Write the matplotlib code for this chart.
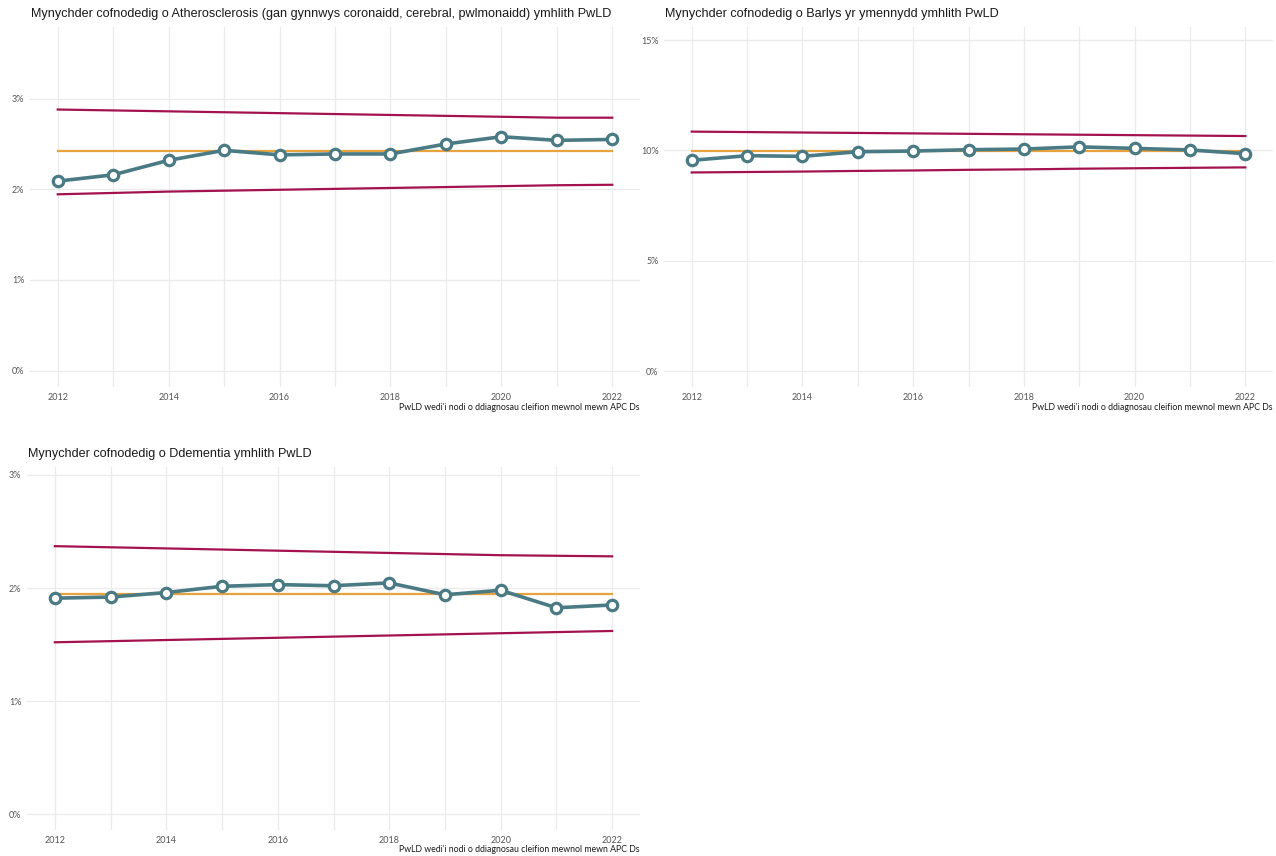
import matplotlib
matplotlib.use("Agg")
import matplotlib.pyplot as plt
from matplotlib.ticker import FuncFormatter, MultipleLocator

W, H = 1276, 856
TEAL = "#4A7A84"; RED = "#A3124F"; ORANGE = "#E8A33D"; GRID = "#EBEBEB"; TICK = "#555555"
plt.rcParams["font.family"] = ["Lato", "DejaVu Sans"]

years = list(range(2012, 2023))

# Atherosclerosis
ath_rate = [2.09, 2.16, 2.32, 2.43, 2.38, 2.39, 2.39, 2.50, 2.58, 2.54, 2.55]
ath_mean = 2.42
ath_upper = [2.88, 2.87, 2.86, 2.85, 2.84, 2.83, 2.82, 2.81, 2.80, 2.79, 2.79]
ath_lower = [1.945, 1.96, 1.975, 1.985, 1.995, 2.005, 2.015, 2.025, 2.035, 2.045, 2.05]

# Barlys yr ymennydd (stroke)
str_rate = [9.55, 9.76, 9.73, 9.94, 9.97, 10.03, 10.06, 10.16, 10.09, 10.02, 9.85]
str_mean = 9.95
str_upper = [10.85, 10.83, 10.81, 10.79, 10.77, 10.75, 10.73, 10.71, 10.69, 10.67, 10.65]
str_lower = [9.00, 9.02, 9.04, 9.07, 9.09, 9.12, 9.14, 9.17, 9.19, 9.21, 9.23]

# Ddementia
dem_rate = [1.91, 1.92, 1.96, 2.015, 2.03, 2.02, 2.045, 1.94, 1.98, 1.825, 1.85]
dem_mean = 1.95
dem_upper = [2.37, 2.36, 2.35, 2.34, 2.33, 2.32, 2.31, 2.30, 2.29, 2.285, 2.28]
dem_lower = [1.52, 1.53, 1.54, 1.55, 1.56, 1.57, 1.58, 1.59, 1.60, 1.61, 1.62]

CAPTION = "PwLD wedi'i nodi o ddiagnosau cleifion mewnol mewn APC Ds"

fig = plt.figure(figsize=(W / 100, H / 100), dpi=100)
fig.patch.set_facecolor("white")


def panel(px, title, rate, mean, upper, lower, ylim, ystep):
    l, t, r, b = px
    ax = fig.add_axes([l / W, 1 - b / H, (r - l) / W, (b - t) / H])
    ax.set_xlim(2011.5, 2022.5)
    ax.set_ylim(*ylim)
    ax.xaxis.set_major_locator(MultipleLocator(1))
    ax.xaxis.set_major_formatter(FuncFormatter(lambda v, p: f"{int(round(v))}" if int(round(v)) % 2 == 0 else ""))
    ax.yaxis.set_major_locator(MultipleLocator(ystep))
    ax.yaxis.set_major_formatter(FuncFormatter(lambda v, p: f"{v:.0f}%"))
    ax.grid(True, color=GRID, lw=0.9)
    ax.set_axisbelow(True)
    for s in ax.spines.values():
        s.set_visible(False)
    ax.tick_params(length=0, labelsize=6.5, labelcolor=TICK)
    ax.tick_params(axis="y", pad=4)
    ax.tick_params(axis="x", pad=4.5)

    ax.plot(years, upper, color=RED, lw=1.6, zorder=2)
    ax.plot(years, lower, color=RED, lw=1.6, zorder=2)
    ax.plot(years, [mean] * len(years), color=ORANGE, lw=1.6, zorder=2)
    ax.plot(years, rate, color=TEAL, lw=2.6, marker="o", ms=7.5, mfc="white", mec=TEAL, mew=2.3, zorder=3)

    fig.text((l + 1) / W, 1 - (t - 13) / H, title, fontsize=9.05, color="#1a1a1a",
             family=["Liberation Sans", "DejaVu Sans"], va="center", ha="left")
    fig.text(r / W, 1 - (b + 20) / H, CAPTION, fontsize=6.3, color="#1a1a1a", va="center", ha="right")
    return ax


panel((30, 27, 640, 387),
      "Mynychder cofnodedig o Atherosclerosis (gan gynnwys coronaidd, cerebral, pwlmonaidd) ymhlith PwLD",
      ath_rate, ath_mean, ath_upper, ath_lower, (-0.18, 3.79), 1)
panel((664, 27, 1273, 387), "Mynychder cofnodedig o Barlys yr ymennydd ymhlith PwLD",
      str_rate, str_mean, str_upper, str_lower, (-0.72, 15.59), 5)
panel((27, 467, 640, 830), "Mynychder cofnodedig o Ddementia ymhlith PwLD",
      dem_rate, dem_mean, dem_upper, dem_lower, (-0.14, 3.07), 1)

fig.savefig("out.png", dpi=100, facecolor="white")
